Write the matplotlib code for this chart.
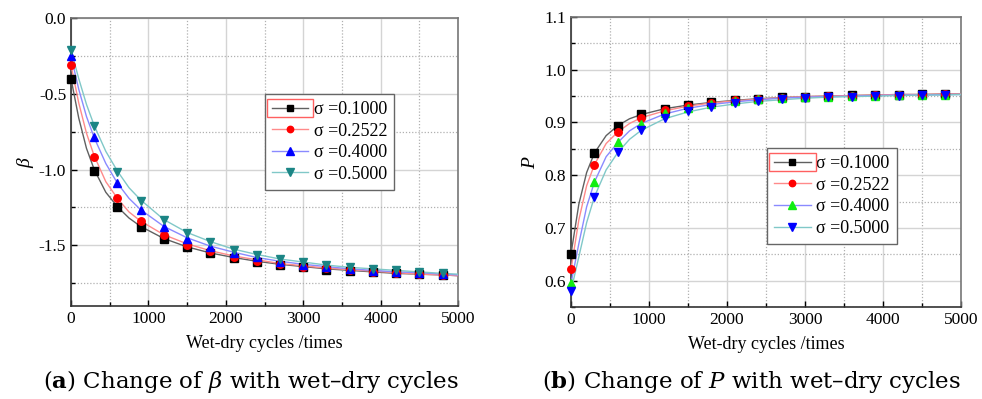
import matplotlib
matplotlib.use("Agg")
import matplotlib.pyplot as plt
from matplotlib.patches import Rectangle
from matplotlib.ticker import MultipleLocator, FormatStrFormatter

plt.rcParams['font.family'] = ['Liberation Serif', 'DejaVu Serif']
plt.rcParams['mathtext.fontset'] = 'custom'
plt.rcParams['mathtext.rm'] = 'Liberation Serif'
plt.rcParams['mathtext.it'] = 'Liberation Serif:italic'
plt.rcParams['mathtext.bf'] = 'Liberation Serif:bold'

# measured points
cycles = [0, 300, 600, 900, 1200, 1500, 1800, 2100, 2400, 2700, 3000,
          3300, 3600, 3900, 4200, 4500, 4800]
sigma_labels = ['σ =0.1000', 'σ =0.2522', 'σ =0.4000', 'σ =0.5000']

beta_010 = [-0.40, -1.01, -1.25, -1.38, -1.46, -1.51, -1.55, -1.585, -1.61,
            -1.63, -1.64, -1.66, -1.67, -1.675, -1.68, -1.69, -1.695]
beta_025 = [-0.31, -0.92, -1.19, -1.34, -1.43, -1.50, -1.54, -1.575, -1.60,
            -1.625, -1.64, -1.65, -1.66, -1.675, -1.68, -1.69, -1.695]
beta_040 = [-0.25, -0.785, -1.09, -1.27, -1.38, -1.46, -1.51, -1.55, -1.58,
            -1.61, -1.63, -1.645, -1.655, -1.667, -1.675, -1.68, -1.69]
beta_050 = [-0.21, -0.71, -1.015, -1.21, -1.335, -1.42, -1.48, -1.53, -1.565,
            -1.59, -1.61, -1.63, -1.645, -1.655, -1.665, -1.675, -1.685]

p_010 = [0.651, 0.842, 0.894, 0.916, 0.926, 0.933, 0.939, 0.943, 0.945,
         0.948, 0.949, 0.950, 0.952, 0.952, 0.953, 0.954, 0.954]
p_025 = [0.622, 0.820, 0.882, 0.909, 0.923, 0.931, 0.937, 0.942, 0.945,
         0.947, 0.949, 0.950, 0.951, 0.952, 0.953, 0.953, 0.954]
p_040 = [0.595, 0.787, 0.863, 0.898, 0.917, 0.928, 0.935, 0.940, 0.944,
         0.947, 0.948, 0.949, 0.950, 0.951, 0.952, 0.952, 0.953]
p_050 = [0.581, 0.759, 0.844, 0.885, 0.908, 0.921, 0.930, 0.936, 0.941,
         0.944, 0.946, 0.948, 0.949, 0.950, 0.951, 0.952, 0.952]

# fitted curves
fit_cycles = [0, 100, 200, 300, 450, 600, 750, 900, 1200, 1500, 1800, 2100,
              2400, 2700, 3000, 3300, 3600, 3900, 4200, 4500, 4800, 5000]
beta_fit_010 = [-0.40, -0.66, -0.86, -1.00, -1.15, -1.245, -1.32, -1.375, -1.455,
                -1.51, -1.55, -1.58, -1.605, -1.625, -1.64, -1.655, -1.665,
                -1.675, -1.685, -1.69, -1.695, -1.70]
beta_fit_025 = [-0.31, -0.56, -0.76, -0.91, -1.08, -1.19, -1.28, -1.34, -1.43,
                -1.49, -1.535, -1.57, -1.595, -1.62, -1.635, -1.65, -1.66,
                -1.67, -1.68, -1.69, -1.695, -1.70]
beta_fit_040 = [-0.25, -0.47, -0.65, -0.79, -0.96, -1.09, -1.19, -1.265, -1.375,
                -1.45, -1.505, -1.545, -1.58, -1.605, -1.625, -1.64, -1.655,
                -1.665, -1.675, -1.68, -1.69, -1.695]
beta_fit_050 = [-0.21, -0.40, -0.57, -0.71, -0.88, -1.01, -1.12, -1.20, -1.33,
                -1.415, -1.475, -1.525, -1.56, -1.59, -1.61, -1.63, -1.645,
                -1.655, -1.665, -1.675, -1.685, -1.69]

p_fit_010 = [0.651, 0.745, 0.805, 0.842, 0.875, 0.894, 0.907, 0.915, 0.926,
             0.933, 0.938, 0.942, 0.945, 0.947, 0.949, 0.950, 0.951, 0.952,
             0.953, 0.953, 0.954, 0.954]
p_fit_025 = [0.622, 0.715, 0.780, 0.820, 0.860, 0.882, 0.898, 0.909, 0.922,
             0.931, 0.937, 0.941, 0.944, 0.947, 0.949, 0.950, 0.951, 0.952,
             0.953, 0.953, 0.954, 0.954]
p_fit_040 = [0.595, 0.670, 0.740, 0.787, 0.835, 0.862, 0.884, 0.898, 0.916,
             0.927, 0.934, 0.939, 0.943, 0.946, 0.948, 0.949, 0.950, 0.951,
             0.952, 0.952, 0.953, 0.953]
p_fit_050 = [0.581, 0.645, 0.710, 0.759, 0.810, 0.843, 0.868, 0.885, 0.907,
             0.920, 0.929, 0.935, 0.940, 0.943, 0.946, 0.948, 0.949, 0.950,
             0.951, 0.952, 0.952, 0.953]

fig = plt.figure(figsize=(9.82, 3.99), dpi=100)
ax1 = fig.add_axes([0.0723, 0.2331, 0.3941, 0.7218])
ax2 = fig.add_axes([0.5815, 0.2306, 0.3971, 0.7268])

marker_size = {'s': 5.2, 'o': 5.4, '^': 6.0, 'v': 6.0}


def style_axis(ax):
    ax.set_xlim(0, 5000)
    ax.xaxis.set_major_locator(MultipleLocator(1000))
    ax.xaxis.set_minor_locator(MultipleLocator(500))
    ax.grid(True, which='major', color='#d4d4d4', linewidth=1.0, linestyle='-')
    ax.grid(True, which='minor', color='#b0b0b0', linewidth=0.9, linestyle=(0, (1, 1.5)))
    ax.set_axisbelow(True)
    ax.tick_params(which='both', direction='in', labelsize=12.5, top=False, right=False)
    ax.tick_params(which='major', length=4, width=1)
    ax.tick_params(which='minor', length=3, width=1)
    for sp in ax.spines.values():
        sp.set_linewidth(1.2)
        sp.set_color('#333333')
    ax.spines['top'].set_color('#777777')
    ax.spines['right'].set_color('#777777')
    ax.set_xlabel('Wet-dry cycles /times', fontsize=13, labelpad=6)


def draw_panel(ax, series):
    handles = []
    for pts, fit, mk, mc, lc in series:
        ax.plot(fit_cycles, fit, color=lc, linewidth=1.0, zorder=3)
        ax.plot(cycles, pts, linestyle='none', marker=mk, markersize=marker_size[mk],
                color=mc, zorder=4, clip_on=False)
        h, = ax.plot([], [], color=lc, linewidth=1.0, marker=mk,
                     markersize=marker_size[mk] - 0.8,
                     markerfacecolor=mc, markeredgecolor=mc)
        handles.append(h)
    return handles


def add_legend(ax, handles, anchor):
    leg = ax.legend(handles, sigma_labels, loc='upper left', bbox_to_anchor=anchor,
                    fontsize=13, frameon=True, fancybox=False, edgecolor='#666666',
                    framealpha=1, handlelength=2.0, handletextpad=0.3,
                    labelspacing=0.25, borderpad=0.4, borderaxespad=0)
    leg.get_frame().set_linewidth(1.0)
    return leg


# (a) beta
left_series = [
    (beta_010, beta_fit_010, 's', '#000000', '#606060'),
    (beta_025, beta_fit_025, 'o', '#ff0000', '#ff8a8a'),
    (beta_040, beta_fit_040, '^', '#0000ff', '#8a8aff'),
    (beta_050, beta_fit_050, 'v', '#1b8585', '#80c8c8'),
]
handles1 = draw_panel(ax1, left_series)
style_axis(ax1)
ax1.set_ylim(-1.9, 0.0)
ax1.yaxis.set_major_locator(MultipleLocator(0.5))
ax1.yaxis.set_minor_locator(MultipleLocator(0.25))
ax1.yaxis.set_major_formatter(FormatStrFormatter('%.1f'))
ax1.set_ylabel(r'$\beta$', fontsize=14, labelpad=2)
leg1 = add_legend(ax1, handles1, (0.501, 0.736))

# (b) P
right_series = [
    (p_010, p_fit_010, 's', '#000000', '#606060'),
    (p_025, p_fit_025, 'o', '#ff0000', '#ff8a8a'),
    (p_040, p_fit_040, '^', '#11ee11', '#8a8aff'),
    (p_050, p_fit_050, 'v', '#0000ff', '#80c8c8'),
]
handles2 = draw_panel(ax2, right_series)
style_axis(ax2)
ax2.set_ylim(0.55, 1.1)
ax2.yaxis.set_major_locator(MultipleLocator(0.1))
ax2.yaxis.set_minor_locator(MultipleLocator(0.05))
ax2.yaxis.set_major_formatter(FormatStrFormatter('%.1f'))
ax2.set_ylabel(r'$P$', fontsize=14, labelpad=4)
leg2 = add_legend(ax2, handles2, (0.503, 0.548))

# captions
fig.text(0.255, 0.045, r'($\mathbf{a}$) Change of $\beta$ with wet–dry cycles',
         ha='center', va='center', fontsize=16.5, family='DejaVu Serif',
         math_fontfamily='dejavuserif')
fig.text(0.765, 0.045, r'($\mathbf{b}$) Change of $P$ with wet–dry cycles',
         ha='center', va='center', fontsize=16.5, family='DejaVu Serif',
         math_fontfamily='dejavuserif')

# red selection box round the first legend handle (Origin artefact)
fig.canvas.draw()
renderer = fig.canvas.get_renderer()
for leg in (leg1, leg2):
    bb = leg.legend_handles[0].get_window_extent(renderer)
    rect = Rectangle((bb.x0 - 2, bb.y0 - 6), bb.width + 4, bb.height + 12,
                     transform=None, fill=False, edgecolor='#ff6060', linewidth=1.0)
    fig.add_artist(rect)

fig.savefig('out.png', dpi=100)
